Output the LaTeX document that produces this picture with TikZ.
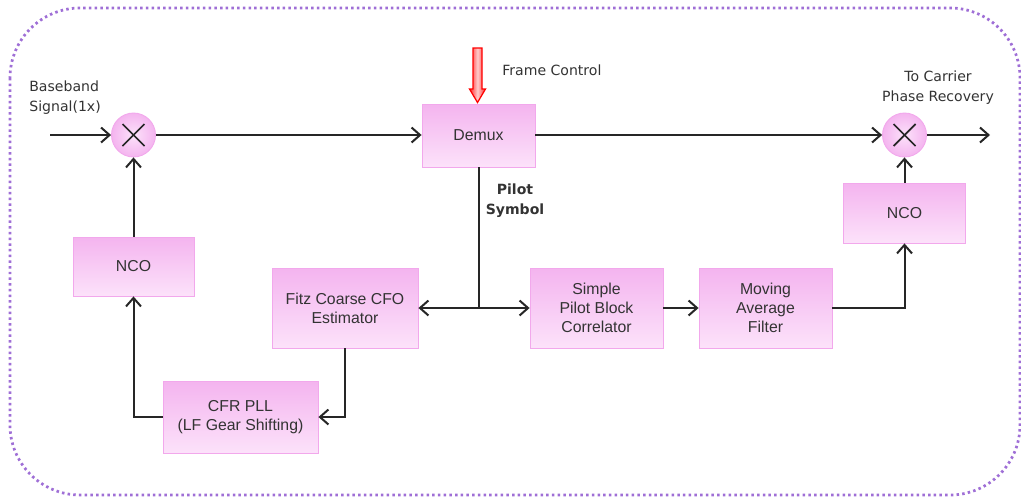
\documentclass[tikz,border=0pt]{standalone}
\usepackage{fontspec}
\setmainfont{Liberation Sans}
\newfontfamily\labelfont{DejaVu Sans}
\usetikzlibrary{arrows.meta,shapes.geometric}

\definecolor{boxtop}{HTML}{F4B4EF}
\definecolor{boxbot}{HTML}{FCE2FA}
\definecolor{boxedge}{HTML}{F2A8EC}
\definecolor{frameline}{HTML}{9F6FD6}
\definecolor{inktext}{HTML}{333333}

\tikzset{
  block/.style={draw=boxedge, line width=0.5pt, top color=boxtop, bottom color=boxbot,
    align=center, text=inktext, inner sep=2pt,
    font=\fontsize{9}{10.8}\selectfont},
  mixer/.style={circle, draw=boxedge, line width=0.5pt, inner color=boxbot, outer color=boxtop,
    minimum size=0.88cm, inner sep=0pt},
  sig/.style={line width=0.04cm, draw=black!85, -{Straight Barb[length=0.17cm,width=0.3cm,line width=0.04cm]}},
  wire/.style={line width=0.04cm, draw=black!85},
  note/.style={font=\labelfont\fontsize{8}{11.5}\selectfont, text=inktext, inner sep=0pt},
}

\begin{document}
\begin{tikzpicture}[x=0.02cm, y=-0.02cm]
\useasboundingbox (0,0) rectangle (1021,498);

% outer dotted frame
\draw[frameline, line width=0.055cm, dash pattern=on 0.05cm off 0.064cm,
      rounded corners=1.4cm] (10,8) rectangle (1020,495);

% blocks
\node[block, minimum width=2.26cm, minimum height=1.26cm] (demux) at (478.5,135.5) {Demux};
\node[block, minimum width=2.44cm, minimum height=1.2cm] (ncoR) at (904.5,213) {NCO};
\node[block, minimum width=2.42cm, minimum height=1.18cm] (ncoL) at (133.5,266.5) {NCO};
\node[block, minimum width=2.92cm, minimum height=1.6cm] (fitz) at (345,308) {Fitz Coarse CFO\\Estimator};
\node[block, minimum width=2.66cm, minimum height=1.6cm] (simple) at (596.5,308) {Simple\\Pilot Block\\Correlator};
\node[block, minimum width=2.66cm, minimum height=1.6cm] (maf) at (765.5,308) {Moving\\Average\\Filter};
\node[block, minimum width=3.1cm, minimum height=1.44cm] (cfr) at (240.5,417) {CFR PLL\\(LF Gear Shifting)};

% mixers
\node[mixer] (m1) at (133.5,135) {};
\node[mixer] (m2) at (904.5,135) {};
\foreach \m in {m1,m2}{
  \draw[line width=0.035cm, black!85] (\m.center) ++(-11,-11) -- ++(22,22);
  \draw[line width=0.035cm, black!85] (\m.center) ++(-11,11) -- ++(22,-22);
}

% labels
\node[note, anchor=west, align=left] (bbl) at (29,98) {Baseband\\Signal(1x)};
\node[note, anchor=west] (fcl) at (502,70) {Frame Control};
\node[note, align=center, font=\labelfont\bfseries\fontsize{8}{11.5}\selectfont] (psl) at (515,201) {Pilot\\Symbol};
\node[note, align=center] (tcl) at (938,88) {To Carrier\\Phase Recovery};

% free ends
\coordinate (bbin) at (50,135);
\coordinate (out) at (990,135);
\coordinate (br) at (demux.south |- fitz.east);

% frame control arrow (hollow red block arrow)
\draw[red, line width=0.7pt, left color=red!85, right color=red!85, middle color=red!20]
  (473,48) -- (482,48) -- (482,89) -- (485.5,89) -- (477.5,102.5) -- (469.5,89) -- (473,89) -- cycle;

% signal path
\draw[sig] (bbin) -- (m1.west);
\draw[sig] (m1.east) -- (demux.west |- m1.east);
\draw[sig] (demux.east |- m2.west) -- (m2.west);
\draw[sig] (m2.east) -- (out);
\draw[sig] (ncoR.north) -- (m2.south);
\draw[sig] (ncoL.north) -- (m1.south);

% pilot branch
\draw[wire] (demux.south) -- (br);
\draw[sig] (br) -- (fitz.east);
\draw[sig] (br) -- (simple.west);
\draw[sig] (simple.east) -- (maf.west);
\draw[sig] (maf.east) -| (ncoR.south);

% coarse loop
\draw[sig] (fitz.south) |- (cfr.east);
\draw[sig] (cfr.west) -| (ncoL.south);
\end{tikzpicture}
\end{document}
